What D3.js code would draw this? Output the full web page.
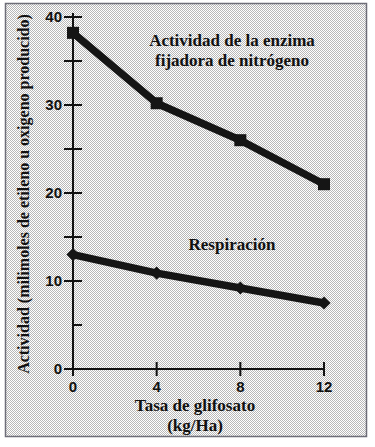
<!DOCTYPE html>
<html>
<head>
<meta charset="utf-8">
<script src="https://cdn.jsdelivr.net/npm/d3@7"></script>
<style>
	html, body { margin: 0; padding: 0; background: #fff; }
	svg { display: block; }
	.tick-label { font-family: "Liberation Sans", Arial, sans-serif; font-weight: bold; font-size: 15px; fill: #111; }
	.serif { font-family: "Liberation Serif", "Times New Roman", serif; font-weight: bold; fill: #111; }
</style>
</head>
<body>
<svg id="chart" width="375" height="447"></svg>
<script>
// glyphosate rate (kg/Ha)
const tasas = [0, 4, 8, 12];
const enzima = [38.2, 30.2, 26.0, 21.0];
const respiracion = [13.0, 10.9, 9.2, 7.5];
const yTicksMajor = [0, 10, 20, 30, 40];
const yTicksMinor = [5, 15, 25, 35];

let svg = d3.select("#chart");

// dithered grey panel
let defs = svg.append("defs");
let pat = defs.append("pattern")
	.attr("id", "dither")
	.attr("width", 2).attr("height", 2)
	.attr("patternUnits", "userSpaceOnUse");
pat.append("rect").attr("width", 2).attr("height", 2).attr("fill", "#ffffff");
pat.append("rect").attr("width", 1).attr("height", 1).attr("fill", "#b8b8b8");
pat.append("rect").attr("x", 1).attr("y", 1).attr("width", 1).attr("height", 1).attr("fill", "#b8b8b8");

svg.append("rect")
	.attr("x", 5.5).attr("y", 3.5)
	.attr("width", 361).attr("height", 433)
	.attr("fill", "url(#dither)")
	.attr("stroke", "#6e6e78")
	.attr("stroke-width", 1.5);

let x = d3.scaleLinear().domain([0, 12]).range([73, 324]);
let y = d3.scaleLinear().domain([0, 40]).range([369, 17]);

let g = svg.append("g");

/* ---------------- axes ---------------- */

g.append("line")
	.attr("x1", x(0)).attr("x2", x(0))
	.attr("y1", 13).attr("y2", y(0))
	.attr("stroke", "#111").attr("stroke-width", 2);

g.append("line")
	.attr("x1", x(0) - 9).attr("x2", x(12))
	.attr("y1", y(0)).attr("y2", y(0))
	.attr("stroke", "#111").attr("stroke-width", 2);

g.selectAll(".ytick")
	.data(yTicksMajor.filter(d => d > 0).concat(yTicksMinor))
	.enter().append("line")
	.attr("x1", d => d == 5 ? x(0) : x(0) - 9)
	.attr("x2", x(0) + 9)
	.attr("y1", d => y(d)).attr("y2", d => y(d))
	.attr("stroke", "#111").attr("stroke-width", 2);

g.selectAll(".ylab")
	.data(yTicksMajor)
	.enter().append("text")
	.attr("class", "tick-label")
	.attr("x", 62)
	.attr("y", d => y(d) + 5)
	.attr("text-anchor", "end")
	.text(d => d);

g.selectAll(".xtick")
	.data(tasas)
	.enter().append("line")
	.attr("x1", d => x(d)).attr("x2", d => x(d))
	.attr("y1", y(0) - 7).attr("y2", y(0) + 7)
	.attr("stroke", "#111").attr("stroke-width", 2);

g.selectAll(".xlab")
	.data(tasas)
	.enter().append("text")
	.attr("class", "tick-label")
	.attr("x", d => x(d))
	.attr("y", 392)
	.attr("text-anchor", "middle")
	.text(d => d);

/* ---------------- series ---------------- */

let line = d3.line()
	.x((d, i) => x(tasas[i]))
	.y(d => y(d));

[enzima, respiracion].forEach(serie => {
	g.append("path")
		.datum(serie)
		.attr("d", line)
		.attr("fill", "none")
		.attr("stroke", "#151515")
		.attr("stroke-width", 7.5)
		.attr("stroke-linejoin", "round");
});

g.selectAll(".sq")
	.data(enzima)
	.enter().append("rect")
	.attr("x", (d, i) => x(tasas[i]) - 6)
	.attr("y", d => y(d) - 6)
	.attr("width", 12).attr("height", 12)
	.attr("fill", "#151515");

g.selectAll(".dia")
	.data(respiracion)
	.enter().append("path")
	.attr("d", d3.symbol().type(d3.symbolDiamond2).size(110))
	.attr("transform", (d, i) => "translate(" + x(tasas[i]) + "," + y(d) + ")")
	.attr("fill", "#151515");

/* ---------------- text ---------------- */

function label(txt, px, py, size){
	g.append("text").attr("class", "serif")
		.attr("x", px).attr("y", py)
		.attr("text-anchor", "middle").attr("font-size", size)
		.text(txt);
}

label("Actividad de la enzima", 232, 46, 17);
label("fijadora de nitrógeno", 232, 66, 17);
label("Respiración", 232, 250, 17);
label("Tasa de glifosato", 195, 411, 17);
label("(kg/Ha)", 195, 431, 17);

g.append("text").attr("class", "serif")
	.attr("transform", "translate(29,194) rotate(-90)")
	.attr("text-anchor", "middle").attr("font-size", 16)
	.text("Actividad (milimoles de etileno u oxigeno producido)");
</script>
</body>
</html>
